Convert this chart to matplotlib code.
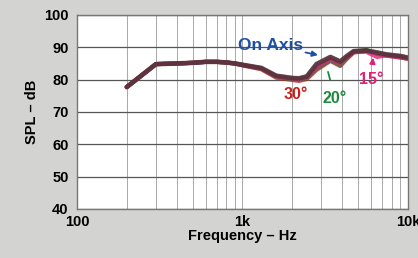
import numpy as np
import matplotlib
matplotlib.use("Agg")
import matplotlib.pyplot as plt
from matplotlib.ticker import FixedLocator, NullFormatter

plt.rcParams['font.family'] = ['Liberation Sans', 'DejaVu Sans']

# frequency points (Hz)
freq = [200, 300, 400, 500, 600, 700, 800, 900, 1000, 1300, 1600, 2000, 2200,
        2450, 2800, 3400, 3900, 4250, 4700, 5600, 6500, 7400, 9000, 10000]

# SPL per angle (dB)
spl_on = [77.7, 84.8, 85.0, 85.2, 85.5, 85.5, 85.3, 85.0, 84.6, 83.6, 81.2, 80.5, 80.4,
          81.0, 84.8, 87.0, 85.6, 87.2, 88.8, 89.0, 88.4, 87.8, 87.3, 86.8]
spl_15 = [77.7, 84.8, 85.0, 85.2, 85.5, 85.5, 85.3, 85.0, 84.5, 83.5, 81.0, 80.3, 80.2,
          80.7, 83.8, 86.3, 85.0, 86.8, 88.5, 88.6, 87.0, 87.5, 86.8, 86.5]
spl_20 = [77.7, 84.8, 85.0, 85.2, 85.5, 85.5, 85.3, 85.0, 84.5, 83.4, 80.9, 80.1, 80.0,
          80.5, 83.3, 86.0, 84.5, 86.5, 88.6, 89.2, 88.0, 87.6, 87.0, 86.6]
spl_30 = [77.7, 84.8, 85.0, 85.2, 85.5, 85.5, 85.3, 85.0, 84.4, 83.2, 80.6, 79.9, 79.6,
          80.2, 83.0, 85.8, 84.2, 86.3, 88.4, 89.0, 88.0, 87.4, 86.9, 86.4]

curves = [
    (spl_30, "#c8201c"),
    (spl_20, "#1c8a3a"),
    (spl_15, "#e0207a"),
    (spl_on, "#1f4fa0"),
]

fig = plt.figure(figsize=(4.18, 2.58), dpi=100)
fig.patch.set_facecolor("#d3d3d1")
ax = fig.add_axes([0.184, 0.190, 0.792, 0.752])
ax.set_facecolor("white")

ax.set_xscale("log")
ax.set_xlim(100, 10000)
ax.set_ylim(40, 100)

minor = [m * d for d in (100, 1000) for m in range(2, 10)]
ax.xaxis.set_minor_locator(FixedLocator(minor))
ax.xaxis.set_minor_formatter(NullFormatter())
ax.set_xticks([100, 1000, 10000])
ax.set_xticklabels(["100", "1k", "10k"])
ax.set_yticks([40, 50, 60, 70, 80, 90, 100])

ax.grid(True, which="major", axis="y", color="#555555", lw=0.9)
ax.grid(True, which="both", axis="x", color="#a8a8a8", lw=0.7)
ax.tick_params(which="both", length=0)
ax.tick_params(axis="y", pad=6)
ax.tick_params(axis="x", pad=4)
for lab in ax.get_xticklabels() + ax.get_yticklabels():
    lab.set_fontweight("bold")
    lab.set_fontsize(10.5)
for s in ax.spines.values():
    s.set_color("#777777")
    s.set_linewidth(1.0)

for vals, col in curves:
    ax.plot(freq, vals, color=col, lw=3.0, alpha=0.8, solid_capstyle="round")
ax.plot(freq, spl_on, color="#6a2a1c", lw=3.4, alpha=0.7, solid_capstyle="round")

ax.set_xlabel("Frequency – Hz", fontsize=10.5, fontweight="bold", labelpad=0)
ax.set_ylabel("SPL – dB", fontsize=10.5, fontweight="bold", labelpad=4)

ax.annotate("On Axis", xy=(2860, 87.6), xytext=(1470, 90.7), color="#1f4fa0",
            fontsize=12.5, fontweight="bold", ha="center", va="center",
            arrowprops=dict(arrowstyle="-|>", color="#1f4fa0", lw=1.3,
                            shrinkA=0, shrinkB=0, mutation_scale=8))
ax.text(2105, 75.3, "30°", color="#c8201c", fontsize=11.5, fontweight="bold",
        ha="center", va="center")
ax.annotate("20°", xy=(3290, 82.4), xytext=(3620, 74.3), color="#1c8a3a",
            fontsize=11.5, fontweight="bold", ha="center", va="center",
            arrowprops=dict(arrowstyle="-", color="#1c8a3a", lw=1.3,
                            shrinkA=6, shrinkB=0))
ax.annotate("15°", xy=(6150, 86.8), xytext=(5975, 79.9), color="#e0207a",
            fontsize=11.5, fontweight="bold", ha="center", va="center",
            arrowprops=dict(arrowstyle="-|>", color="#e0207a", lw=1.3,
                            shrinkA=6, shrinkB=0, mutation_scale=8))

fig.savefig("out.png", dpi=100, facecolor=fig.get_facecolor())
